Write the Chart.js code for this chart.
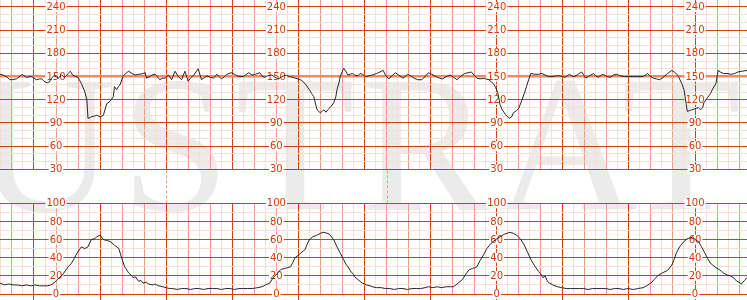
<!DOCTYPE html>
<html>
<head>
<meta charset="utf-8">
<script src="https://cdn.jsdelivr.net/npm/chart.js@4.4.1/dist/chart.umd.min.js"></script>
<style>
html, body { margin: 0; padding: 0; background: #fff; }
#wrap { position: relative; width: 747px; height: 300px; overflow: hidden; }
#mark { position: absolute; left: -347px; top: 47px; font: 195px/1 "Liberation Serif", serif; letter-spacing: 6px; color: #ebebeb; white-space: nowrap; }
#graficoFc { position: absolute; left: 0; top: 0; }
#graficoUc { position: absolute; left: 0; top: 195px; }
</style>
</head>
<body>
<div id="wrap">
  <div id="mark">ILLUSTRATION</div>
  <canvas id="graficoFc" width="747" height="205"></canvas>
  <canvas id="graficoUc" width="747" height="105"></canvas>
</div>
<script>
const fcTrace = [
  [29,153],[32,152],[35,150],[38,146],[40,146],[44,147],[47,150],[49,153],[51,151],[53,149],[56,150],[58,150],
  [62,146],[65,147],[67,147],[70,143],[72,142],[74,143],[76,148],[78,151],[80,150],[82,148],[85,152],[88,149],
  [91,154],[93,157],[95,152],[98,150],[100,149],[103,141],[106,131],[108,120],[109,96],[111,97],[112,98],[115,99],
  [117,100],[120,98],[123,100],[126,115],[129,118],[132,124],[133,137],[135,133],[137,138],[138,139],[141,151],
  [144,155],[146,157],[149,154],[152,152],[154,153],[156,153],[159,154],[161,155],[162,148],[165,150],[167,152],
  [170,153],[172,150],[174,146],[177,148],[179,148],[182,152],[185,146],[188,157],[191,150],[194,146],[197,157],
  [200,144],[202,148],[205,152],[207,156],[209,160],[212,146],[215,149],[217,151],[220,149],[223,148],[226,153],
  [228,150],[230,147],[233,150],[235,153],[237,154],[239,155],[242,153],[244,151],[247,150],[250,150],[252,152],
  [255,155],[258,152],[261,153],[265,155],[267,151],[269,149],[272,151],[276,152],[279,149],[282,147],[285,150],
  [289,152],[292,150],[295,149],[297,148],[300,147],[303,145],[306,141],[308,137],[310,133],[312,128],[314,124],
  [316,112],[317,107],[320,103],[322,106],[323,107],[325,104],[328,109],[330,112],[332,116],[334,124],[335,133],
  [337,143],[338,150],[340,157],[341,161],[343,157],[345,152],[347,153],[349,154],[351,152],[354,151],[356,154],
  [358,153],[361,150],[364,151],[367,152],[371,154],[374,156],[377,158],[379,152],[382,147],[385,151],[388,155],
  [391,152],[395,148],[397,150],[399,153],[402,151],[405,148],[408,146],[412,146],[415,150],[418,155],[421,153],
  [425,150],[428,148],[431,147],[434,150],[438,152],[441,149],[444,146],[447,150],[451,154],[454,155],[457,156],
  [460,151],[462,148],[465,147],[468,148],[470,147],[473,146],[475,143],[477,141],[479,136],[481,129],[483,114],
  [485,107],[488,101],[490,98],[492,96],[494,99],[495,103],[498,106],[500,109],[503,120],[505,128],[507,137],
  [509,146],[511,154],[515,153],[518,153],[521,154],[524,152],[527,150],[531,150],[534,151],[537,151],[540,150],
  [542,149],[544,151],[546,153],[548,151],[550,150],[553,152],[557,156],[559,152],[561,148],[564,151],[568,154],
  [570,151],[572,149],[575,152],[577,153],[580,150],[583,149],[586,152],[589,153],[592,151],[596,150],[600,150],
  [604,150],[608,150],[613,150],[615,152],[617,154],[619,151],[622,148],[625,147],[628,146],[631,149],[635,154],
  [637,156],[639,158],[641,156],[643,154],[645,150],[648,141],[650,133],[651,124],[653,105],[655,106],[657,107],
  [659,108],[661,109],[663,110],[665,107],[667,110],[668,116],[671,122],[674,128],[676,134],[679,141],[681,158],
  [683,156],[686,154],[689,154],[693,153],[696,154],[699,156],[703,157],[707.2,158]
];

const ucTrace = [
  [29,12],[33,10],[37,11],[41,10],[45,10],[49,9],[53,10],[57,9],[61,10],[65,9],[69,9],[72,9],[75,10],[78,12],
  [82,17],[85,20],[87,23],[91,30],[94,34],[96,38],[99,45],[103,52],[106,50],[109,52],[112,60],[115,61],[117,63],
  [120,65],[123,60],[126,59],[129,58],[133,54],[137,50],[139,42],[140,38],[142,31],[143,29],[146,23],[148,21],
  [150,18],[152,19],[155,14],[157,15],[159,12],[162,13],[164,11],[168,10],[170,11],[173,9],[177,8],[180,7],
  [183,6],[186,6],[190,5],[194,6],[198,6],[202,5],[206,6],[210,6],[214,5],[218,6],[222,6],[226,6],[230,5],
  [234,6],[238,6],[242,5],[246,6],[250,6],[254,6],[258,6],[263,7],[267,8],[270,10],[274,12],[276,16],[278,19],
  [281,23],[284,27],[287,28],[290,29],[293,30],[295,35],[297,40],[300,43],[302,45],[304,47],[306,49],[308,55],
  [310,60],[313,63],[317,65],[320,67],[323,68],[326,67],[328,66],[330,63],[332,60],[335,52],[338,45],[341,38],
  [343,33],[345,30],[348,24],[350,22],[351,19],[353,17],[355,15],[358,12],[360,11],[362,10],[365,9],[367,8],
  [371,7],[375,7],[379,6],[383,6],[387,5],[391,6],[395,6],[399,5],[403,6],[407,6],[411,6],[415,7],[418,8],
  [422,7],[426,8],[430,7],[434,8],[438,8],[441,8],[445,12],[449,16],[452,22],[455,27],[458,28],[462,30],
  [465,37],[468,43],[471,50],[475,56],[479,60],[483,63],[487,66],[492,68],[495,67],[498,65],[502,60],[505,54],
  [508,46],[511,38],[513,34],[515,30],[518,25],[520,22],[522,18],[524,20],[526,14],[528,12],[531,10],[535,8],
  [539,7],[543,6],[547,6],[551,6],[555,6],[559,6],[563,5],[567,6],[571,6],[575,6],[579,6],[583,5],[587,6],
  [591,6],[595,5],[599,6],[604,5],[608,6],[613,7],[616,9],[620,12],[623,16],[626,20],[630,23],[635,26],
  [639,32],[641,38],[643,45],[646,52],[650,58],[653,61],[656,62],[658,63],[660,60],[663,58],[666,52],[669,45],
  [672,38],[674,34],[676,32],[679,29],[682,27],[684,25],[686,23],[689,21],[692,20],[695,18],[698,14],[700,13],
  [702,11],[705,15],[707.2,18]
];

const fcLabels = [30, 60, 90, 120, 150, 180, 210, 240];
const ucLabels = [0, 20, 40, 60, 80, 100];
const labelTimes = [80, 280, 480, 660];
const eventTimes = [180, 380];

const tempoMin = 29.14;
const tempoMax = 707.2;

const corForte = "#d63c0c";
const corMedia = "#ef9c82";
const corFraca = "#f8dfd6";
const corTexto = "#d03a0a";
const corLinha = "#262626";

function passos(ini, fim, passo) {
    const lista = [];
    for (let v = ini; v <= fim; v += passo) lista.push({ value: v });
    return lista;
}

function corTempo(ctx) {
    const v = Math.round(ctx.tick.value);
    if (v % 60 === 0) return corForte;
    if (v % 20 === 0) return corMedia;
    return corFraca;
}

const rotulos = {
    id: "rotulos",
    beforeDatasetsDraw(chart, args, opts) {
        const ctx = chart.ctx;
        const x = chart.scales.x;
        const y = chart.scales.y;
        ctx.save();
        ctx.font = '10px "DejaVu Sans"';
        ctx.textAlign = "center";
        ctx.textBaseline = "middle";
        opts.valores.forEach(v => {
            labelTimes.forEach(t => {
                const px = x.getPixelForValue(t);
                const py = y.getPixelForValue(v);
                const texto = String(v);
                const w = ctx.measureText(texto).width + 2;
                ctx.fillStyle = "#fff";
                ctx.fillRect(px - w / 2, py - 5, w, 10);
                ctx.fillStyle = corTexto;
                ctx.fillText(texto, px, py + 0.5);
            });
        });
        ctx.restore();
    }
};

const eventos = {
    id: "eventos",
    afterDraw(chart) {
        const ctx = chart.ctx;
        const x = chart.scales.x;
        ctx.save();
        ctx.strokeStyle = corMedia;
        ctx.lineWidth = 1;
        ctx.setLineDash([3, 2]);
        eventTimes.forEach(t => {
            const px = Math.round(x.getPixelForValue(t)) + 0.5;
            ctx.beginPath();
            ctx.moveTo(px, chart.chartArea.bottom + 1);
            ctx.lineTo(px, chart.height - 1.5);
            ctx.stroke();
        });
        ctx.restore();
    }
};

function eixoX(comTicks) {
    return {
        type: "linear",
        min: tempoMin,
        max: tempoMax,
        afterBuildTicks: s => { s.ticks = passos(30, 700, 10); },
        ticks: { display: false },
        border: { display: false },
        grid: {
            color: corTempo,
            lineWidth: 1,
            drawTicks: comTicks,
            tickLength: 6,
            tickColor: ctx => (Math.round(ctx.tick.value) % 60 === 0 ? corForte : "rgba(0,0,0,0)")
        }
    };
}

function criarGrafico(canvasId, serie, yMin, yMax, passoForte, padding, valores, comTicks, plugins) {
    const ctx = document.getElementById(canvasId).getContext("2d");
    return new Chart(ctx, {
        type: "line",
        data: {
            datasets: [{
                data: serie.map(p => ({ x: p[0], y: p[1] })),
                borderColor: corLinha,
                borderWidth: 1,
                pointRadius: 0,
                tension: 0,
                fill: false
            }]
        },
        options: {
            responsive: false,
            animation: false,
            layout: { padding: padding },
            plugins: {
                legend: { display: false },
                tooltip: { enabled: false },
                rotulos: { valores: valores }
            },
            scales: {
                x: eixoX(comTicks),
                y: {
                    type: "linear",
                    min: yMin,
                    max: yMax,
                    afterBuildTicks: s => { s.ticks = passos(Math.ceil(yMin / 10) * 10, yMax, 10); },
                    ticks: { display: false },
                    border: { display: false },
                    grid: {
                        drawTicks: false,
                        color: c => {
                            const v = Math.round(c.tick.value);
                            if (canvasId === "graficoFc" && v === 150) return "#ea8c6c";
                            return v % passoForte === 0 ? corForte : corFraca;
                        },
                        lineWidth: c => (canvasId === "graficoFc" && Math.round(c.tick.value) === 150 ? 2.5 : 1)
                    }
                }
            }
        },
        plugins: plugins
    });
}

criarGrafico("graficoFc", fcTrace, 30, 249.05, 30, { top: 0, bottom: 35.6, left: 0, right: 0 }, fcLabels, false, [rotulos, eventos]);
criarGrafico("graficoUc", ucTrace, 0, 100, 20, { top: 8.3, bottom: 0, left: 0, right: 0 }, ucLabels, true, [rotulos]);
</script>
</body>
</html>
